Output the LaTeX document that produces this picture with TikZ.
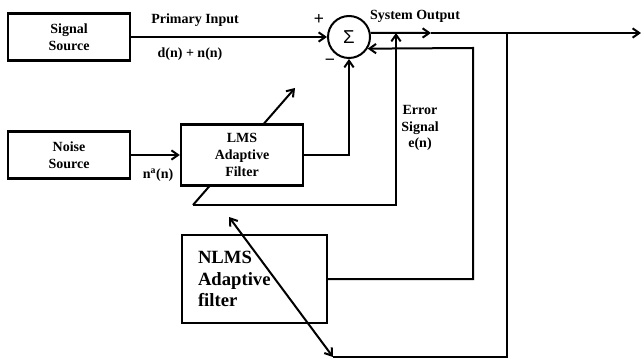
\documentclass[tikz,border=0pt]{standalone}
\usepackage{fontspec}
\setmainfont{Liberation Serif}
\setsansfont{Liberation Sans}
\usetikzlibrary{arrows.meta,positioning,calc}
\tikzset{every picture/.style={line width=1.5pt}}
\tikzset{
  blk/.style={draw, fill=white, line width=1.8pt, align=center, font=\fontsize{10.5}{12.5}\selectfont\bfseries},
  lbl/.style={font=\fontsize{10.5}{12.5}\selectfont\bfseries, align=center},
  sgn/.style={font=\sffamily\fontsize{13}{14}\selectfont, inner sep=0pt},
  sig/.style={-{Straight Barb[length=5pt,width=7pt]}},
}

\begin{document}
\begin{tikzpicture}[x=0.75pt,y=-0.75pt]
    \useasboundingbox (0,0) rectangle (641,359);
    % adaptation path through the LMS filter (box covers it)
    \coordinate (lmsTail) at (193,205);
    \coordinate (lmsTip) at (295,88);
    \draw[sig] (lmsTail) -- (lmsTip);

    \node[blk, minimum width=91.5pt, minimum height=35.25pt] (src) at (69,37) {Signal\\Source};
    \node[blk, minimum width=91.5pt, minimum height=35.25pt] (noise) at (69,155) {Noise\\Source};
    \node[blk, minimum width=91.5pt, minimum height=45.75pt] (lms) at (242,155) {LMS\\Adaptive\\Filter};
    \node[blk, minimum width=108.75pt, minimum height=66pt, text width=84.75pt, align=left,
          font=\fontsize{14}{16}\selectfont\bfseries] (nlms) at (254.5,279) {NLMS\\Adaptive\\filter};
    \node[draw, circle, minimum size=31.5pt, inner sep=0pt, font=\sffamily\fontsize{14}{16}\selectfont] (sum) at (349,37) {Σ};

    \coordinate (tapE) at (396,33);
    \coordinate (tapN) at (507,33);
    \coordinate (midA) at (431,33);
    \coordinate (outEnd) at (641,33);
    \coordinate (errCorner) at (396,205);
    \coordinate (fbTop) at (473,48);
    \coordinate (nlmsCorner) at (507,357);
    \coordinate (nlmsTail) at (333,357);
    \coordinate (nlmsTip) at (229,217);

    % main signal path
    \draw[sig] (src.east) -- (sum.west);
    \draw[sig] (noise.east) -- (lms.west);
    \draw[sig] (lms.east) -| (sum.south);
    \draw[sig] (sum.11) -- (midA);
    \draw[sig] (midA) -- (outEnd);

    % error feedback
    \draw[sig] (lmsTail) -- (errCorner) -- (tapE);
    \draw[sig] (nlms.east) -| (fbTop) -- (sum.-32);
    \draw (tapN) -- (nlmsCorner) -- (nlmsTail);
    \draw[{Straight Barb[length=5pt,width=7pt]}-{Straight Barb[length=5pt,width=7pt]}] (nlmsTail) -- (nlmsTip);

    % labels
    \node[lbl] (pin) at (195,20) {Primary Input};
    \node[lbl] (dn) at (190,54) {d(n) + n(n)};
    \node[sgn] (plus) at (319,20) {+};
    \node[sgn] (minus) at (330,62) {\textminus};
    \node[lbl] (sysout) at (415,16) {System Output};
    \node[lbl] (err) at (420,128) {Error\\Signal\\e(n)};
    \node[lbl] (na) at (158,175) {n\textsuperscript{a}(n)};
\end{tikzpicture}
\end{document}
